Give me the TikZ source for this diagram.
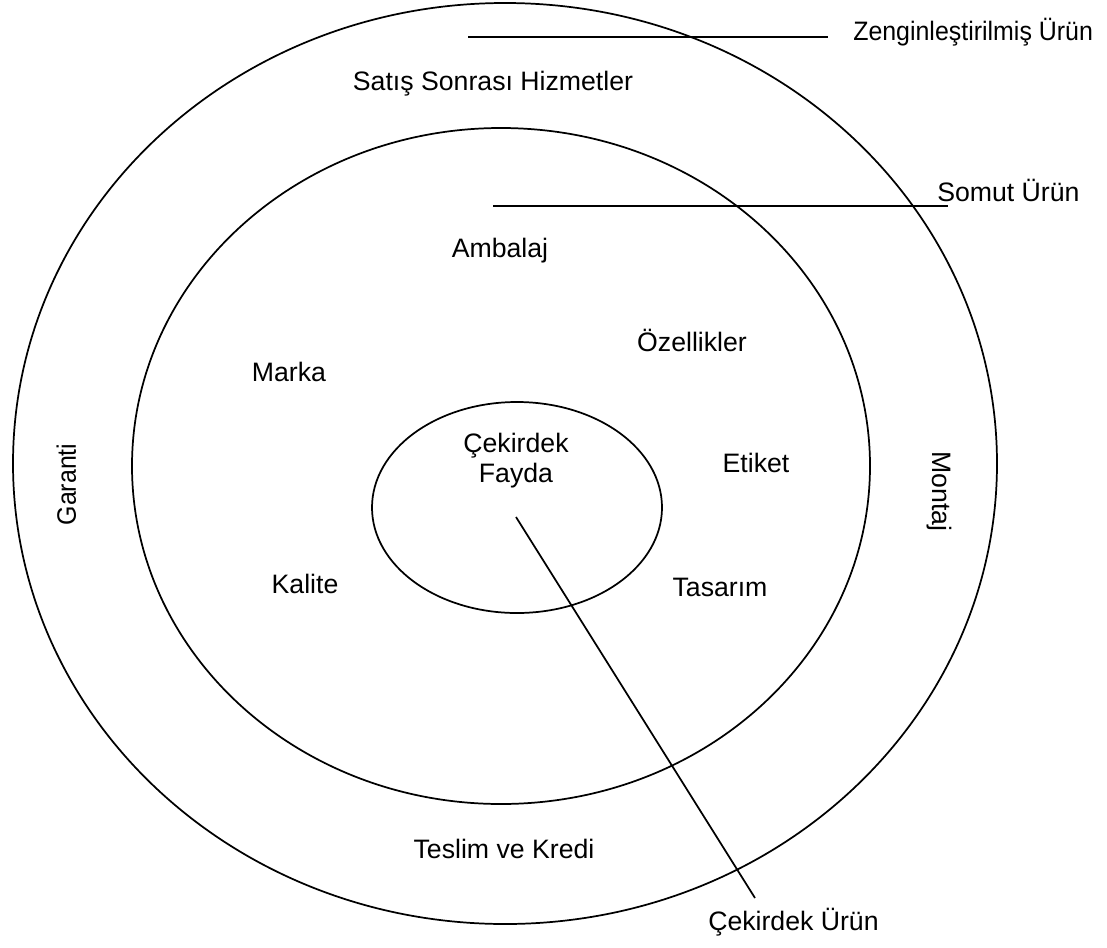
\documentclass[tikz,border=0pt]{standalone}
\usepackage{fontspec}
\setmainfont{Liberation Sans}
\newfontfamily\narrowfont[FakeStretch=0.935]{Liberation Sans}
\begin{document}
\begin{tikzpicture}[x=0.75pt,y=-0.75pt,
  ring/.style={line width=1.3pt},
  leader/.style={line width=1.3pt},
  lbl/.style={inner sep=0pt,font=\fontsize{20}{22.5}\selectfont,text height=0.72em,text depth=0pt,anchor=center},
  nlbl/.style={lbl,font=\fontsize{20}{22.5}\narrowfont}]
\useasboundingbox (0,0) rectangle (1107,947);

% three nested levels of the product
\draw[ring] (505,463.5) ellipse [x radius=492, y radius=460.5];
\draw[ring] (501,466) ellipse [x radius=369, y radius=338];
\draw[ring] (517,507.5) ellipse [x radius=145, y radius=105.5];

% labels of the outer ring
\node[lbl] (satis) at (493,85.5) {Satış Sonrası Hizmetler};
\node[lbl] (teslim) at (504,854) {Teslim ve Kredi};
\node[nlbl,rotate=90] (garanti) at (71,484.5) {Garanti};
\node[lbl,rotate=-90] (montaj) at (937.5,491.5) {Montaj};

% labels of the middle ring
\node[lbl] (ambalaj) at (500,253) {Ambalaj};
\node[lbl] (ozellik) at (692,347) {Özellikler};
\node[lbl] (marka) at (289,377) {Marka};
\node[lbl] (etiket) at (756,468) {Etiket};
\node[lbl] (kalite) at (305,589) {Kalite};
\node[lbl] (tasarim) at (720,592) {Tasarım};

% core
\node[lbl,align=center] (fayda) at (516,477.5) {Çekirdek\\Fayda};

% level names with their leader lines
\node[nlbl,anchor=west] (zengin) at (853,36) {Zenginleştirilmiş Ürün};
\node[lbl,anchor=west] (somut) at (937,196.5) {Somut Ürün};
\node[lbl,anchor=west] (cekirdek) at (708,926) {Çekirdek Ürün};

\coordinate (z0) at (468,37);
\coordinate (z1) at (828,37);
\coordinate (s0) at (493,206);
\coordinate (s1) at (948,206);
\coordinate (c0) at (516,517);
\coordinate (c1) at (755,898);
\draw[leader] (z0) -- (z1);
\draw[leader] (s0) -- (s1);
\draw[leader] (c0) -- (c1);
\end{tikzpicture}
\end{document}
